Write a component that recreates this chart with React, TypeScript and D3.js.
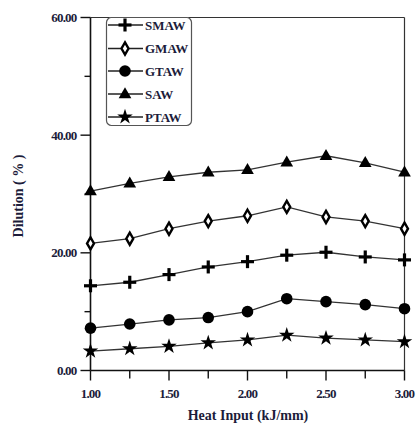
import React from "react";
import * as d3 from "d3";

const heatInput = [1.0, 1.25, 1.5, 1.75, 2.0, 2.25, 2.5, 2.75, 3.0];
const smaw = [14.4, 15.0, 16.3, 17.6, 18.5, 19.6, 20.1, 19.3, 18.8];
const gmaw = [21.6, 22.4, 24.1, 25.4, 26.3, 27.8, 26.1, 25.4, 24.1];
const gtaw = [7.2, 7.9, 8.6, 9.0, 10.0, 12.2, 11.7, 11.2, 10.5];
const saw = [30.5, 31.8, 32.9, 33.7, 34.1, 35.4, 36.5, 35.3, 33.7];
const ptaw = [3.3, 3.7, 4.1, 4.7, 5.2, 6.0, 5.5, 5.2, 4.9];
const seriesNames = ["SMAW", "GMAW", "GTAW", "SAW", "PTAW"];
const xMajorTicks = [1.0, 1.5, 2.0, 2.5, 3.0];
const xMinorTicks = [1.25, 1.75, 2.25, 2.75];
const yMajorTicks = [0, 20, 40, 60];
const yMinorTicks = [10, 30, 50];

const series = [
  { name: seriesNames[0], values: smaw, marker: "plus" },
  { name: seriesNames[1], values: gmaw, marker: "diamond" },
  { name: seriesNames[2], values: gtaw, marker: "circle" },
  { name: seriesNames[3], values: saw, marker: "triangle" },
  { name: seriesNames[4], values: ptaw, marker: "star" },
];

const L = 90.5, R = 404.5, T = 17.5, B = 370.5;
const x = d3.scaleLinear().domain([1, 3]).range([L, R]);
const y = d3.scaleLinear().domain([0, 60]).range([B, T]);
const txtColor = "#1c1c3a";
const font = "'Liberation Serif', 'Times New Roman', serif";

function Marker({ type, cx, cy }: { type: string; cx: number; cy: number }) {
  if (type === "plus") {
    return (
      <g transform={`translate(${cx},${cy})`} stroke="#000" strokeWidth={3.2}>
        <line x1={-6.5} x2={6.5} y1={0} y2={0} />
        <line x1={0} x2={0} y1={-6.5} y2={6.5} />
      </g>
    );
  }
  if (type === "circle") {
    return <circle cx={cx} cy={cy} r={5.8} fill="#000" />;
  }
  if (type === "diamond") {
    const p = d3.symbol().type(d3.symbolDiamond).size(42)();
    return <path d={p || ""} transform={`translate(${cx},${cy})`} fill="#fff" stroke="#000" strokeWidth={2.4} />;
  }
  if (type === "triangle") {
    const p = d3.symbol().type(d3.symbolTriangle).size(70)();
    return <path d={p || ""} transform={`translate(${cx},${cy + 0.5})`} fill="#000" />;
  }
  const p = d3.symbol().type(d3.symbolStar).size(75)();
  return <path d={p || ""} transform={`translate(${cx},${cy})`} fill="#000" />;
}

export default function App() {
  const line = d3
    .line<number>()
    .x((_, i) => x(heatInput[i]))
    .y((d) => y(d));
  const legendRows = [25, 48.5, 71, 94, 117];
  return (
    <svg width={417} height={425} style={{ position: "absolute", left: 0, top: 0, background: "#fff" }}>
      <line x1={L} x2={R} y1={T} y2={T} stroke="#333" strokeWidth={1.2} />
      <line x1={R} x2={R} y1={T} y2={B} stroke="#333" strokeWidth={1.2} />
      <line x1={L} x2={L} y1={T} y2={B} stroke="#111" strokeWidth={1.6} />
      <line x1={L} x2={R} y1={B} y2={B} stroke="#111" strokeWidth={1.6} />
      {yMajorTicks.map((t) => (
        <g key={"ym" + t}>
          <line x1={L - 10} x2={L} y1={y(t)} y2={y(t)} stroke="#111" strokeWidth={1.4} />
          <text x={L - 14} y={y(t)} dy="0.35em" textAnchor="end" fontFamily={font} fontWeight="bold" fontSize={13} fill={txtColor} letterSpacing={-0.8}>
            {t.toFixed(2)}
          </text>
        </g>
      ))}
      {yMinorTicks.map((t) => (
        <line key={"yn" + t} x1={L - 6} x2={L} y1={y(t)} y2={y(t)} stroke="#111" strokeWidth={1.4} />
      ))}
      {xMajorTicks.map((t) => (
        <g key={"xm" + t}>
          <line x1={x(t)} x2={x(t)} y1={B} y2={B + 10} stroke="#111" strokeWidth={1.4} />
          <text x={x(t)} y={B + 27} textAnchor="middle" fontFamily={font} fontWeight="bold" fontSize={13} fill={txtColor} letterSpacing={-0.8}>
            {t.toFixed(2)}
          </text>
        </g>
      ))}
      {xMinorTicks.map((t) => (
        <line key={"xn" + t} x1={x(t)} x2={x(t)} y1={B} y2={B + 8} stroke="#111" strokeWidth={1.4} />
      ))}
      <text x={248} y={420} textAnchor="middle" fontFamily={font} fontWeight="bold" fontSize={14} fill={txtColor}>
        Heat Input (kJ/mm)
      </text>
      <text transform={`translate(23,${(T + B) / 2 + 2}) rotate(-90)`} textAnchor="middle" fontFamily={font} fontWeight="bold" fontSize={14} fill={txtColor}>
        Dilution ( % )
      </text>
      {series.map((s) => (
        <g key={s.name}>
          <path d={line(s.values) || ""} fill="none" stroke="#333" strokeWidth={1.3} />
          {s.values.map((v, i) => (
            <Marker key={i} type={s.marker} cx={x(heatInput[i])} cy={y(v)} />
          ))}
        </g>
      ))}
      <rect x={106.5} y={17.5} width={85} height={108} rx={5} fill="#fff" stroke="#555" strokeWidth={1.2} />
      {series.map((s, i) => (
        <g key={"lg" + s.name}>
          <line x1={108} x2={143} y1={legendRows[i]} y2={legendRows[i]} stroke="#222" strokeWidth={1.3} />
          <Marker type={s.marker} cx={125} cy={legendRows[i]} />
          <text x={145} y={legendRows[i]} dy="0.35em" fontFamily={font} fontWeight="bold" fontSize={13} fill={txtColor}>
            {s.name}
          </text>
        </g>
      ))}
    </svg>
  );
}
